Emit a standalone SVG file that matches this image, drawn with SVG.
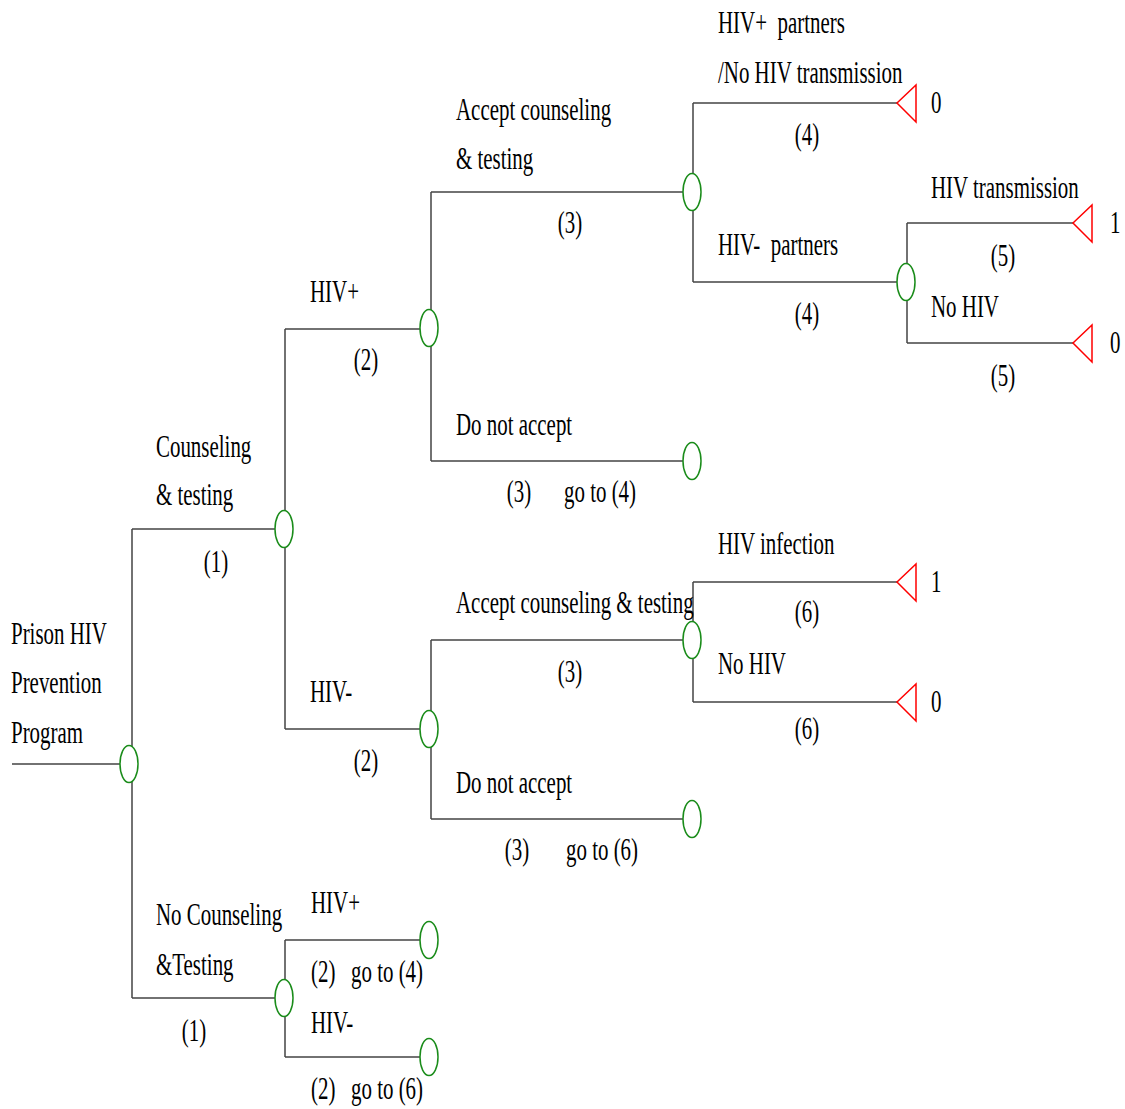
<svg xmlns="http://www.w3.org/2000/svg" width="1125" height="1109" viewBox="0 0 1125 1109">
<style>
.bg{fill:#fff}
.ln{fill:none;stroke:#444;stroke-width:1.5}
.ch{fill:#fff;stroke:#1a8c1a;stroke-width:1.5}
.tm{fill:#fff;stroke:#ff0000;stroke-width:1.5}
.t{font-family:"Liberation Serif","Times New Roman",serif;font-size:31px;fill:#000;white-space:pre}
.m{text-anchor:middle}
</style>
<rect class="bg" x="0" y="0" width="1125" height="1109"/>
<g id="connectors">
<path class="ln" d="M12,764H122 M132,529V998 M132,529H276 M132,998H276"/>
<path class="ln" d="M285,329V729 M285,329H421 M285,729H421"/>
<path class="ln" d="M431,192V461 M431,192H684 M431,461H684"/>
<path class="ln" d="M693,103V282 M693,103H897 M693,282H898"/>
<path class="ln" d="M907,223V343 M907,223H1073 M907,343H1073"/>
<path class="ln" d="M431,640V819 M431,640H684 M431,819H684"/>
<path class="ln" d="M693,582V702 M693,582H897 M693,702H897"/>
<path class="ln" d="M285,940V1057 M285,940H421 M285,1057H421"/>
</g>
<g id="n-root"><ellipse class="ch" cx="129" cy="764" rx="9" ry="18.5"/></g>
<g id="n-ct"><ellipse class="ch" cx="284" cy="529" rx="9" ry="18.5"/></g>
<g id="n-ct-hivp"><ellipse class="ch" cx="429" cy="328" rx="9" ry="18.5"/></g>
<g id="n-ct-hivp-accept"><ellipse class="ch" cx="692" cy="192" rx="9" ry="18.5"/></g>
<g id="n-ct-hivp-accept-neg"><ellipse class="ch" cx="906" cy="282" rx="9" ry="18.5"/></g>
<g id="n-ct-hivp-notaccept"><ellipse class="ch" cx="692" cy="461" rx="9" ry="18.5"/></g>
<g id="n-ct-hivn"><ellipse class="ch" cx="429" cy="729" rx="9" ry="18.5"/></g>
<g id="n-ct-hivn-accept"><ellipse class="ch" cx="692" cy="640" rx="9" ry="18.5"/></g>
<g id="n-ct-hivn-notaccept"><ellipse class="ch" cx="692" cy="819" rx="9" ry="18.5"/></g>
<g id="n-noct"><ellipse class="ch" cx="284" cy="998" rx="9" ry="18.5"/></g>
<g id="n-noct-hivp"><ellipse class="ch" cx="429" cy="940" rx="9" ry="18.5"/></g>
<g id="n-noct-hivn"><ellipse class="ch" cx="429" cy="1057" rx="9" ry="18.5"/></g>
<g id="t-1"><polygon class="tm" points="897,103 916,85 916,122"/><text class="t" transform="translate(931,113) scale(0.675,1)">0</text></g>
<g id="t-2"><polygon class="tm" points="1073,223 1092,205 1092,242"/><text class="t" transform="translate(1110,233) scale(0.675,1)">1</text></g>
<g id="t-3"><polygon class="tm" points="1073,343 1092,325 1092,362"/><text class="t" transform="translate(1110,353) scale(0.675,1)">0</text></g>
<g id="t-4"><polygon class="tm" points="897,582 916,564 916,601"/><text class="t" transform="translate(931,592) scale(0.675,1)">1</text></g>
<g id="t-5"><polygon class="tm" points="897,702 916,684 916,721"/><text class="t" transform="translate(931,712) scale(0.675,1)">0</text></g>
<g id="labels">
<text class="t" transform="translate(11,644) scale(0.675,1)">Prison HIV</text>
<text class="t" transform="translate(11,693) scale(0.675,1)">Prevention</text>
<text class="t" transform="translate(11,743) scale(0.675,1)">Program</text>
<text class="t" transform="translate(156,457) scale(0.675,1)">Counseling</text>
<text class="t" transform="translate(156,505) scale(0.675,1)">&amp; testing</text>
<text class="t m" transform="translate(216,572) scale(0.675,1)">(1)</text>
<text class="t" transform="translate(310,302) scale(0.675,1)">HIV+</text>
<text class="t m" transform="translate(366,370) scale(0.675,1)">(2)</text>
<text class="t" transform="translate(310,702) scale(0.675,1)">HIV-</text>
<text class="t m" transform="translate(366,771) scale(0.675,1)">(2)</text>
<text class="t" transform="translate(456,120) scale(0.675,1)">Accept counseling</text>
<text class="t" transform="translate(456,169) scale(0.675,1)">&amp; testing</text>
<text class="t m" transform="translate(570,233) scale(0.675,1)">(3)</text>
<text class="t" transform="translate(456,435) scale(0.675,1)">Do not accept</text>
<text class="t m" transform="translate(519,502) scale(0.675,1)">(3)</text>
<text class="t" transform="translate(564,502) scale(0.675,1)">go to (4)</text>
<text class="t" transform="translate(718,33) scale(0.675,1)">HIV+  partners</text>
<text class="t" transform="translate(718,83) scale(0.675,1)">/No HIV transmission</text>
<text class="t m" transform="translate(807,145) scale(0.675,1)">(4)</text>
<text class="t" transform="translate(718,255) scale(0.675,1)">HIV-  partners</text>
<text class="t m" transform="translate(807,324) scale(0.675,1)">(4)</text>
<text class="t" transform="translate(931,198) scale(0.675,1)">HIV transmission</text>
<text class="t m" transform="translate(1003,266) scale(0.675,1)">(5)</text>
<text class="t" transform="translate(931,317) scale(0.675,1)">No HIV</text>
<text class="t m" transform="translate(1003,386) scale(0.675,1)">(5)</text>
<text class="t" transform="translate(456,613) scale(0.675,1)">Accept counseling &amp; testing</text>
<text class="t m" transform="translate(570,682) scale(0.675,1)">(3)</text>
<text class="t" transform="translate(456,793) scale(0.675,1)">Do not accept</text>
<text class="t m" transform="translate(517,860) scale(0.675,1)">(3)</text>
<text class="t" transform="translate(566,860) scale(0.675,1)">go to (6)</text>
<text class="t" transform="translate(718,554) scale(0.675,1)">HIV infection</text>
<text class="t m" transform="translate(807,622) scale(0.675,1)">(6)</text>
<text class="t" transform="translate(718,674) scale(0.675,1)">No HIV</text>
<text class="t m" transform="translate(807,739) scale(0.675,1)">(6)</text>
<text class="t" transform="translate(156,925) scale(0.675,1)">No Counseling</text>
<text class="t" transform="translate(156,975) scale(0.675,1)">&amp;Testing</text>
<text class="t m" transform="translate(194,1041) scale(0.675,1)">(1)</text>
<text class="t" transform="translate(311,913) scale(0.675,1)">HIV+</text>
<text class="t" transform="translate(311,982) scale(0.675,1)">(2)</text>
<text class="t" transform="translate(351,982) scale(0.675,1)">go to (4)</text>
<text class="t" transform="translate(311,1033) scale(0.675,1)">HIV-</text>
<text class="t" transform="translate(311,1099) scale(0.675,1)">(2)</text>
<text class="t" transform="translate(351,1099) scale(0.675,1)">go to (6)</text>
</g>
</svg>
